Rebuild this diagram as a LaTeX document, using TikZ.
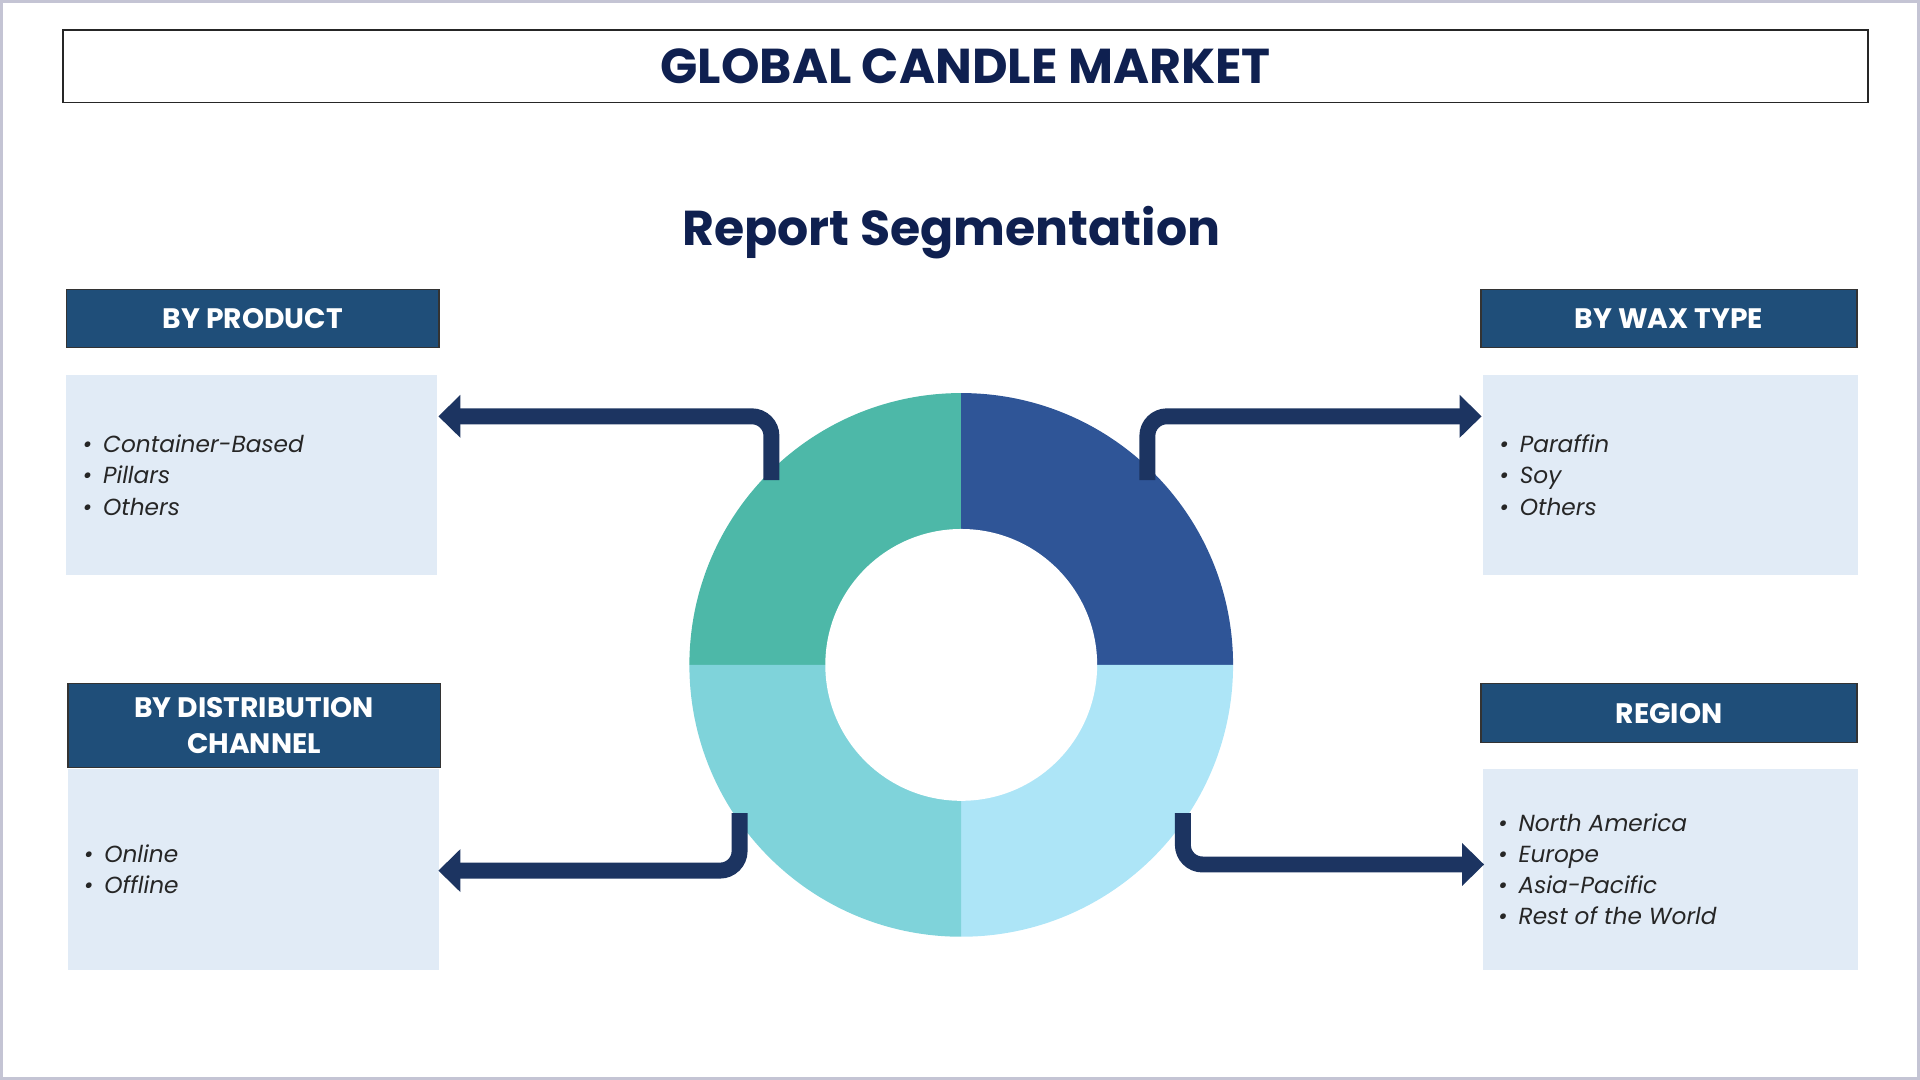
\documentclass[tikz,border=0pt]{standalone}
\usepackage{fontspec}
\setmainfont{Poppins}
\usetikzlibrary{arrows.meta}
\definecolor{navy}{HTML}{0F2050}
\definecolor{hdr}{HTML}{1F4E79}
\definecolor{lite}{HTML}{E1EBF6}
\definecolor{arr}{HTML}{1C3461}
\definecolor{qa}{HTML}{4DB8A8}
\definecolor{qb}{HTML}{2F5597}
\definecolor{qc}{HTML}{7FD3DA}
\definecolor{qd}{HTML}{ADE5F7}
\tikzset{
 hbox/.style={draw=black!80,line width=1pt,fill=hdr,text=white,font=\bfseries\fontsize{23}{29}\selectfont,align=center,anchor=north west,inner sep=0pt},
 cbox/.style={fill=lite,anchor=north west,inner sep=0pt},
 btxt/.style={font=\itshape\fontsize{19}{25.5}\selectfont,text=black!85,align=left,anchor=west},
 conn/.style={draw=arr,line width=13pt,rounded corners=16pt,-{Triangle[length=18pt,width=34pt]}}
}
\begin{document}
\begin{tikzpicture}[x=1pt,y=-1pt]
\useasboundingbox (0,0) rectangle (1568,882);
\draw[draw=blue!15!gray!40,line width=3pt] (1,1) rectangle (1567,881);
\node[draw=black!85,line width=1.2pt,minimum width=1474pt,minimum height=59pt,anchor=north west,inner sep=0pt,text=navy,font=\bfseries\fontsize{40}{44}\selectfont] (title) at (51,24) {GLOBAL CANDLE MARKET};
\node[text=navy,font=\bfseries\fontsize{40}{44}\selectfont] (sub) at (777,190) {Report Segmentation};
% headers
\node[hbox,minimum width=304pt,minimum height=47pt] (h1) at (54,236) {BY PRODUCT};
\node[hbox,minimum width=307pt,minimum height=47pt] (h2) at (1209,236) {BY WAX TYPE};
\node[hbox,minimum width=304pt,minimum height=68pt] (h3) at (55,558) {BY DISTRIBUTION\\CHANNEL};
\node[hbox,minimum width=307pt,minimum height=48pt] (h4) at (1209,558) {REGION};
% content
\node[cbox,minimum width=303pt,minimum height=163pt] (c1) at (54,306) {};
\node[cbox,minimum width=306pt,minimum height=163pt] (c2) at (1211,306) {};
\node[cbox,minimum width=303pt,minimum height=164pt] (c3) at (55,628) {};
\node[cbox,minimum width=306pt,minimum height=164pt] (c4) at (1211,628) {};
\node[btxt] (t1) at (64,388) {• \,Container-Based\\• \,Pillars\\• \,Others};
\node[btxt] (t2) at (1221,388) {• \,Paraffin\\• \,Soy\\• \,Others};
\node[btxt] (t3) at (65,710) {• \,Online\\• \,Offline};
\node[btxt] (t4) at (1220,710) {• \,North America\\• \,Europe\\• \,Asia-Pacific\\• \,Rest of the World};
% donut (y axis points down, so angles run clockwise)
\coordinate (o) at (785,543);
\fill[qa] (o) -- (563,543) arc[start angle=180,end angle=270,radius=222] -- cycle;
\fill[qb] (o) -- (785,321) arc[start angle=270,end angle=360,radius=222] -- cycle;
\fill[qd] (o) -- (1007,543) arc[start angle=0,end angle=90,radius=222] -- cycle;
\fill[qc] (o) -- (785,765) arc[start angle=90,end angle=180,radius=222] -- cycle;
\fill[white] (o) circle[radius=111];
% connectors
\coordinate (s1) at (630,392); \coordinate (e1) at (358,340);
\coordinate (s2) at (937,392); \coordinate (e2) at (1210,340);
\coordinate (s3) at (604,664); \coordinate (e3) at (358,711);
\coordinate (s4) at (966,664); \coordinate (e4) at (1212,706);
\draw[conn] (s1) |- (e1);
\draw[conn] (s2) |- (e2);
\draw[conn] (s3) |- (e3);
\draw[conn] (s4) |- (e4);
\end{tikzpicture}
\end{document}
